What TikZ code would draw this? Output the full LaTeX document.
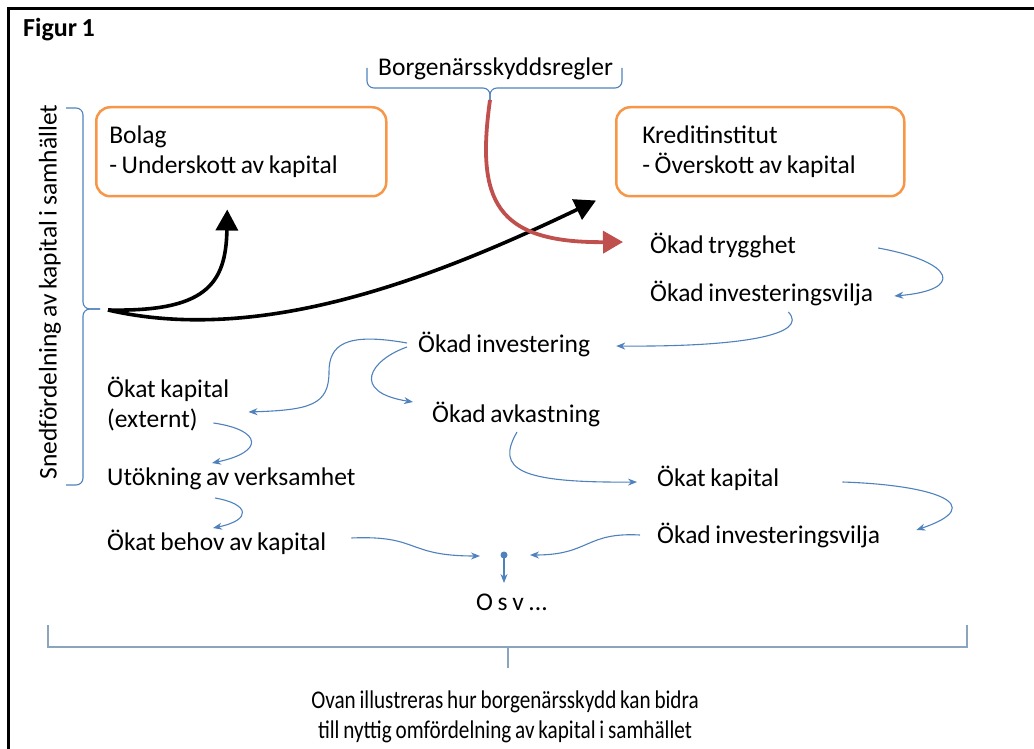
\documentclass[tikz,border=0pt]{standalone}
\usepackage{fontspec}
\usepackage{graphicx}
\setmainfont{Carlito}[WordSpace=0.8]
\usetikzlibrary{arrows.meta}
\definecolor{boxorange}{HTML}{F79646}
\definecolor{arrowred}{HTML}{C0504D}
\definecolor{flowblue}{HTML}{4F81BD}
\definecolor{bracegray}{HTML}{8CA5BF}
\begin{document}
\begin{tikzpicture}[x=1pt, y=-1pt, font=\fontsize{25.5}{30}\selectfont,
    txt/.style={anchor=base west, inner sep=0pt},
    infobox/.style={draw=boxorange, line width=2.5pt, rounded corners=14pt, anchor=north west, align=left, minimum height=89pt},
    flow/.style={draw=flowblue, line width=1.1pt, -{Stealth[length=9pt,width=7pt]}},
    bigarrow/.style={line width=3.6pt, -{Triangle[length=21pt,width=22pt]}},
    bracket/.style={draw=flowblue, line width=1.1pt, rounded corners=7pt}]
	\useasboundingbox (0,0) rectangle (1034,749);
	% ram och rubrik
	\draw[line width=3pt] (8.5,749) -- (8.5,9) -- (1034,9);
	\node[txt, font=\fontsize{26}{30}\selectfont\bfseries] (figur) at (23,37) {Figur 1};
	
	% borgenärsskyddsregler med klammer
	\node[txt] (regler) at (378,76) {Borgenärsskyddsregler};
	\draw[bracket] (367,68) -- (367,88) -- (490,88) -- (490,100);
	\draw[bracket] (490,100) -- (490,88) -- (622,88) -- (622,68);
	\coordinate (reglertip) at (490,100);
	
	% bolag och kreditinstitut
	\node[infobox, minimum width=290pt, inner xsep=13pt, text width=264pt] (bolag) at (95,106) {\spaceskip=0pt Bolag\\- Underskott av kapital};
	\node[infobox, minimum width=288pt, inner xsep=26pt, text width=236pt] (kredit) at (615,106) {\spaceskip=0pt Kreditinstitut\\- Överskott av kapital};
	
	% snedfördelning, klammer till vänster
	\node[rotate=90, inner sep=0pt] (sned) at (50,292) {Snedfördelning av kapital i samhället};
	\draw[bracket] (66,108) -- (83,108) -- (83,309) -- (100,309);
	\draw[bracket] (100,309) -- (83,309) -- (83,485) -- (66,485);
	\coordinate (src) at (108,310);
	
	% svarta pilar
	\draw[bigarrow] (src) .. controls (205,312) and (226,285) .. ([shift={(-14,12)}]bolag.south);
	\draw[bigarrow] (src) .. controls (260,345) and (430,280) .. ([shift={(-19,3)}]kredit.south west);
	
	% kedjan av effekter
	\node[txt] (trygg) at (650,253) {Ökad trygghet};
	\node[txt] (vilja) at (650,301) {Ökad investeringsvilja};
	\node[txt] (inv) at (418,352) {Ökad investering};
	\node[anchor=west, inner sep=0pt, align=left] (extkap) at (107,404) {Ökat kapital\\(externt)};
	\node[txt] (avk) at (432,422) {Ökad avkastning};
	\node[txt] (utok) at (107,485) {Utökning av verksamhet};
	\node[txt] (behov) at (107,550) {Ökat behov av kapital};
	\node[txt] (kap) at (657,486) {Ökat kapital};
	\node[txt] (vilja2) at (657,543) {Ökad investeringsvilja};
	\node[anchor=base, inner sep=0pt] (osv) at (512,610) {O s v ...};
	\coordinate (dot) at (504,555);
	
	% röd pil
	\draw[line width=3.8pt, arrowred, -{Triangle[length=20pt,width=22pt]}] (reglertip) .. controls (476,200) and (495,243) .. ([shift={(-27,-11)}]trygg.base west);
	
	% blå pilar
	\draw[flow] ([shift={(82,-5)}]trygg.base east) .. controls (955,262) and (965,290) .. ([shift={(21,-5)}]vilja.base east);
	\draw[flow] ([shift={(-85,11)}]vilja.base east) .. controls (810,335) and (740,347) .. ([shift={(26,-6)}]inv.base east);
	\draw[flow] ([shift={(-11,-9)}]inv.base west) .. controls (345,332) and (329,345) .. (329,372) .. controls (329,405) and (310,410) .. ([shift={(19,8)}]extkap.east);
	\draw[flow] ([shift={(-11,-5)}]inv.base west) .. controls (370,360) and (350,392) .. ([shift={(-19,-20)}]avk.base west);
	\draw[flow] ([shift={(-16,19)}]extkap.east) .. controls (262,430) and (265,452) .. ([shift={(105,-22)}]utok.base west);
	\draw[flow] ([shift={(108,13)}]utok.base west) .. controls (250,504) and (252,520) .. ([shift={(106,-22)}]behov.base west);
	\draw[flow] ([shift={(25,-12)}]behov.base east) .. controls (420,535) and (405,556) .. ([shift={(-24,1)}]dot);
	\draw[flow] ([shift={(85,10)}]avk.base west) .. controls (495,470) and (520,483) .. ([shift={(-20,-4)}]kap.base west);
	\draw[flow] ([shift={(63,-4)}]kap.base east) .. controls (935,485) and (990,505) .. ([shift={(36,-13)}]vilja2.base east);
	\draw[flow] ([shift={(-17,-8)}]vilja2.base west) .. controls (585,532) and (590,555) .. ([shift={(26,0)}]dot);
	\fill[flowblue] (dot) circle (3.5pt);
	\draw[flow] (dot) -- ++(0,28);
	
	% nedre klammer och förklaring
	\draw[bracegray, line width=1.3pt] (48,625) -- (48,647) -- (967,647) -- (967,625);
	\draw[bracegray, line width=1.3pt] (508,647) -- (508,668);
	\node[align=center, inner sep=0pt] (note) at (505,717) {\scalebox{0.83}[1]{Ovan illustreras hur borgenärsskydd kan bidra}\\\scalebox{0.83}[1]{till nyttig omfördelning av kapital i samhället}};
\end{tikzpicture}
\end{document}
